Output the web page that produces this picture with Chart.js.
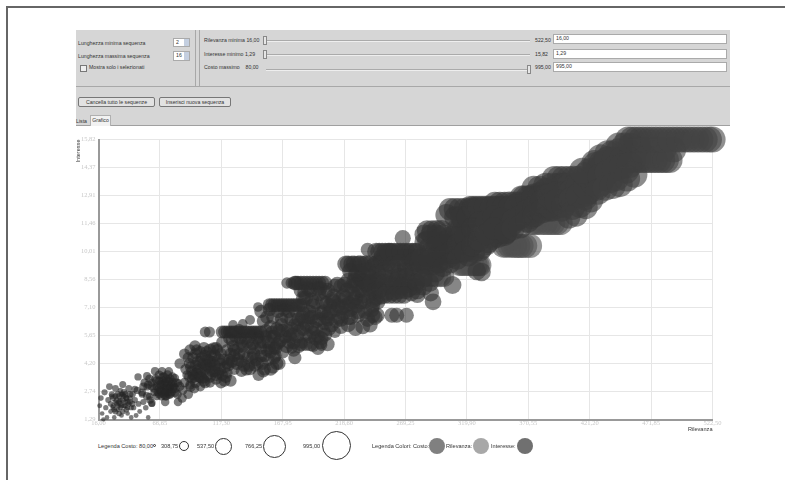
<!DOCTYPE html>
<html lang="it">
<head>
    <meta charset="UTF-8">
    <title>Grafico sequenze</title>
    <script src="https://cdn.jsdelivr.net/npm/chart.js"></script>
    <style>
        html, body { margin: 0; padding: 0; background: #fff; }
        body { width: 790px; height: 480px; position: relative; overflow: hidden; font-family: "Liberation Sans", sans-serif; font-size: 5.2px; color: #333; }
        .abs { position: absolute; white-space: nowrap; }
        .t { position: absolute; white-space: nowrap; line-height: 8px; height: 8px; }
        .leg { font-size: 5.6px; }
        .box { position: absolute; background: #fff; border: 1px solid #aaa; box-sizing: border-box; line-height: 7px; padding-left: 2px; white-space: nowrap; }
        .btn { position: absolute; background: #e2e2e2; border: 1px solid #777; border-radius: 2px; box-sizing: border-box; text-align: center; line-height: 8px; white-space: nowrap; }
        .track { position: absolute; height: 2px; background: #eee; border-top: 1px solid #aaa; box-sizing: border-box; }
        .thumb { position: absolute; width: 4px; height: 9px; background: #e6e6e6; border: 1px solid #888; box-sizing: border-box; }
        .ring { position: absolute; border: 1px solid #333; border-radius: 50%; box-sizing: border-box; background: #fff; }
        .dot { position: absolute; border-radius: 50%; width: 16px; height: 16px; }
        #chartBox { position: absolute; left: 60px; top: 126px; width: 680px; height: 314px; }
    </style>
</head>
<body>
    <!-- cornice -->
    <div class="abs" style="left:6px;top:6px;width:779px;height:2px;background:#666"></div>
    <div class="abs" style="left:6px;top:6px;width:2px;height:474px;background:#666"></div>

    <!-- pannello grigio -->
    <div class="abs" style="left:76px;top:30px;width:654px;height:95px;background:#d6d6d6"></div>
    <div class="abs" style="left:76px;top:86px;width:654px;height:1px;background:#a8a8a8"></div>
    <div class="abs" style="left:195px;top:30px;width:1px;height:56px;background:#a8a8a8"></div>
    <div class="abs" style="left:199px;top:30px;width:1px;height:56px;background:#a8a8a8"></div>
    <div class="abs" style="left:76px;top:125px;width:654px;height:1px;background:#a0a0a0"></div>

    <div class="t" style="left:78px;top:39px">Lunghezza minima sequenza</div>
    <div class="t" style="left:78px;top:52px">Lunghezza massima sequenza</div>
    <div class="box" style="left:173px;top:38px;width:17px;height:9px">2</div>
    <div class="box" style="left:173px;top:51px;width:17px;height:10px">16</div>
    <div class="abs" style="left:184px;top:39px;width:5px;height:7px;background:#c4cfe0"></div>
    <div class="abs" style="left:184px;top:52px;width:5px;height:8px;background:#c4cfe0"></div>
    <div class="abs" style="left:80px;top:65px;width:5px;height:5px;border:1px solid #777;background:#eee"></div>
    <div class="t" style="left:89px;top:63px">Mostra solo i selezionati</div>

    <div class="t" style="left:204px;top:36px">Rilevanza minima 16,00</div>
    <div class="t" style="left:204px;top:50px">Interesse minimo 1,29</div>
    <div class="t" style="left:204px;top:63px">Costo massimo &nbsp; &nbsp;80,00</div>
    <div class="track" style="left:266px;top:40px;width:264px"></div>
    <div class="track" style="left:266px;top:54px;width:264px"></div>
    <div class="track" style="left:266px;top:69px;width:264px"></div>
    <div class="thumb" style="left:263px;top:36px"></div>
    <div class="thumb" style="left:263px;top:50px"></div>
    <div class="thumb" style="left:527px;top:65px"></div>
    <div class="t" style="left:535px;top:36px">522,50</div>
    <div class="t" style="left:535px;top:50px">15,82</div>
    <div class="t" style="left:535px;top:63px">995,00</div>
    <div class="box" style="left:553px;top:34px;width:174px;height:10px">16,00</div>
    <div class="box" style="left:553px;top:49px;width:174px;height:10px">1,29</div>
    <div class="box" style="left:553px;top:62px;width:174px;height:10px">995,00</div>

    <div class="btn" style="left:78px;top:97px;width:77px;height:10px">Cancella tutto le sequenze</div>
    <div class="btn" style="left:159px;top:97px;width:72px;height:10px">Inserisci nuova sequenza</div>

    <div class="abs" style="left:90px;top:115px;width:21px;height:11px;background:#f2f2f2;border:1px solid #b0b0b0;border-bottom:none;box-sizing:border-box;text-align:center;line-height:9px">Grafico</div>
    <div class="t" style="left:76px;top:117px">Lista</div>

    <div id="chartBox"><canvas id="grafico"></canvas></div>

    <!-- legenda -->
    <div class="t leg" style="left:98px;top:442px">Legenda Costo: 80,00</div>
    <div class="ring" style="left:153px;top:444px;width:3px;height:3px"></div>
    <div class="t leg" style="left:161px;top:442px">308,75</div>
    <div class="ring" style="left:179px;top:441px;width:10px;height:10px"></div>
    <div class="t leg" style="left:197px;top:442px">537,50</div>
    <div class="ring" style="left:215px;top:438px;width:17px;height:17px"></div>
    <div class="t leg" style="left:245px;top:442px">766,25</div>
    <div class="ring" style="left:263px;top:435px;width:23px;height:23px"></div>
    <div class="t leg" style="left:303px;top:442px">995,00</div>
    <div class="ring" style="left:322px;top:431px;width:29px;height:29px"></div>
    <div class="t leg" style="left:372px;top:442px">Legenda Colori: Costo:</div>
    <div class="dot" style="left:429px;top:438px;background:#808080"></div>
    <div class="t leg" style="left:446px;top:442px">Rilevanza:</div>
    <div class="dot" style="left:473px;top:438px;background:#a8a8a8"></div>
    <div class="t leg" style="left:491px;top:442px">Interesse:</div>
    <div class="dot" style="left:517px;top:438px;background:#707070"></div>

    <script>
        const xTicks = [16.00, 66.65, 117.30, 167.95, 218.60, 269.25, 319.90, 370.55, 421.20, 471.85, 522.50];
        const yTicks = [1.29, 2.74, 4.20, 5.65, 7.10, 8.56, 10.01, 11.46, 12.91, 14.37, 15.82];

        // massa scura: disegnata per prima
        const relevanzaMassa = [
            26,28,30,32,34,36,38,40,42,27,
            29,31,33,35,37,39,41,43,30,33,
            36,39,34,37,
            62,64,66,68,70,72,74,76,78,80,
            63,65,67,69,71,73,75,77,79,81,
            66,69,72,75,68,71,74,70,73,76,
            85,100,103,108,
            90,92,94,96,98,100,102,104,106,108,
            110,112,114,116,118,120,122,124,91,93,
            95,97,99,101,103,105,107,109,111,113,
            115,117,119,121,123,125,98,103,108,113,
            124,127,130,133,136,139,142,145,148,151,
            154,157,160,163,126,129,132,135,138,141,
            144,147,150,153,156,159,162,165,128,131,
            134,137,140,143,146,149,152,155,158,161,
            120,124,128,132,136,140,144,148,
            155,158,161,164,167,170,173,176,179,182,
            185,188,191,194,197,200,203,206,157,160,
            163,166,169,172,175,178,181,184,187,190,
            193,196,199,202,205,159,162,165,168,171,
            174,177,180,183,186,189,192,195,198,201,
            159,163,167,171,175,179,183,
            183,187,191,195,199,203,207,211,215,219,
            223,227,231,235,239,243,185,189,193,197,
            201,205,209,213,217,221,225,229,233,237,
            241,245,206,210,214,218,222,226,230,234,
            238,242,246,204,208,212,216,220,224,228,
            180.5,185.5,190.5,195.5,200.5,
            222,227,232,237,242,247,252,257,262,267,
            272,277,282,287,224,229,234,239,244,249,
            254,259,264,269,274,279,284,232,237,242,
            247,252,257,262,267,272,277,244,249,254,
            259,264,269,274,279,284,289,294,250,256,
            247.5,252.5,257.5,262.5,267.5,272.5,277,
            285,290,295,300,305,310,315,320,325,330,
            335,340,345,350,288,293,298,303,308,313,
            318,323,328,333,338,343,348,353,287,292,
            297,302,307,312,317,322,327,332,337,342,
            347,352,296,301,306,311,316,321,326,331,
            336,341,346,351,356,361,366,371,318,322,
            322.5,327.5,332.5,337.5,342.5,347.5,352.5,357.5,367,372,
            377,
            355,360,365,370,375,380,385,390,395,400,
            405,410,415,420,425,430,357,362,367,372,
            377,382,387,392,397,402,407,412,417,422,
            427,432,368,373,378,383,388,393,398,403,
            408,413,418,423,428,433,438,443,396,401,
            406,411,416,421,426,431,436,441,446,451,
            439,445,451,457,463,469,475,481,456.5,463.5,
            470.5,477.5,484.5,491.5,498.5,505.5,512.5,519.5,458,466,
            474,482,490,445,450,455,
            306,310,314,318,322,326,303,287,291,295,
            299,343,347,351,355,359,363,392,396,400,
            404,408,412,375,380,52,54,56,58,60,
            53,57,332,328
        ];
        const interesseMassa = [
            2.1,1.9,2.5,2.0,2.3,1.7,2.2,1.9,2.4,2.5,
            1.8,2.1,2.2,2.6,2.0,1.8,2.1,1.9,1.7,1.6,
            2.6,2.4,2.8,2.5,
            2.9,3.3,2.6,3.1,2.9,2.9,3.3,2.7,3.0,3.2,
            3.4,2.7,3.1,3.5,2.5,2.7,3.0,3.5,2.9,2.6,
            3.6,3.3,2.5,3.4,2.7,3.2,2.6,3.5,3.6,3.1,
            2.4,3.0,3.4,3.2,
            4.5,4.0,3.6,4.7,4.3,3.7,4.2,3.9,4.4,3.5,
            4.3,3.8,4.9,4.2,3.6,4.0,3.7,4.4,4.2,3.8,
            3.5,4.9,3.5,4.5,5.0,4.8,4.0,4.6,5.0,3.6,
            3.7,4.7,4.4,3.5,4.1,4.7,3.9,3.3,4.1,5.0,
            5.5,5.1,4.2,5.5,4.1,4.5,5.6,4.1,5.6,4.2,
            5.6,5.0,4.0,4.2,4.3,5.6,4.7,5.1,3.9,5.0,
            4.7,5.5,5.0,4.6,4.4,5.6,4.6,4.2,4.9,4.4,
            5.3,5.5,4.1,5.2,4.4,5.3,3.8,4.9,3.9,5.0,
            5.83,5.83,5.83,5.83,5.83,5.83,5.83,5.83,
            6.6,6.1,5.6,6.9,6.2,5.6,6.9,5.7,6.9,5.9,
            6.8,6.2,5.2,6.8,5.6,6.8,5.7,6.0,7.0,6.6,
            6.0,5.4,7.0,5.9,6.5,6.2,5.1,6.6,5.7,6.9,
            5.8,6.4,5.3,6.9,6.5,5.8,5.0,5.3,5.9,5.1,
            5.6,5.3,6.2,5.2,6.4,6.6,6.1,5.5,6.5,5.9,
            7.23,7.23,7.23,7.23,7.23,7.23,7.23,
            8.0,7.6,8.0,7.4,8.1,7.9,7.2,8.2,7.5,8.3,
            7.3,8.5,8.0,7.4,8.1,7.5,7.6,8.1,7.2,8.1,
            7.4,8.0,7.5,8.3,7.1,8.0,8.2,7.2,8.0,8.3,
            7.0,7.6,6.8,7.4,6.6,7.7,6.6,7.4,6.9,7.7,
            6.5,6.7,7.4,6.6,6.2,7.0,6.5,7.2,6.6,7.6,
            8.37,8.37,8.37,8.37,8.37,
            9.36,9.36,9.36,9.36,9.2,8.6,9.7,9.7,9.7,9.7,
            9.7,9.7,9.7,9.4,9.0,8.8,8.8,8.7,8.5,9.5,
            9.4,9.0,8.9,9.0,9.2,9.4,9.3,8.6,8.4,8.3,
            8.5,8.7,8.3,8.5,8.4,8.4,8.2,7.9,7.7,8.2,
            7.9,8.0,8.0,7.9,8.0,8.2,8.4,8.9,9.7,10.0,
            10.0,10.0,10.0,10.0,10.0,10.0,10.0,
            10.5,10.0,10.5,10.2,10.4,10.9,11.3,11.3,11.8,11.9,
            11.9,11.9,11.9,11.9,9.3,9.5,10.1,10.6,9.9,10.0,
            10.4,10.6,11.0,11.2,11.4,11.4,11.4,11.4,10.6,9.3,
            9.4,9.6,9.9,10.8,11.3,10.1,10.5,10.2,10.5,10.8,
            11.0,11.0,9.9,9.9,9.7,9.9,10.4,9.8,10.0,10.1,
            10.4,10.7,10.8,10.9,11.4,11.7,11.9,12.2,11.8,11.8,
            12.3,12.3,12.3,12.3,12.3,12.3,12.3,12.3,12.8,12.8,
            12.8,
            11.9,12.4,11.9,12.5,12.9,13.0,13.2,12.2,13.2,13.2,
            13.3,13.2,13.5,13.1,13.9,13.5,11.4,11.7,12.5,12.0,
            12.6,12.4,13.0,13.0,12.4,12.9,12.3,13.0,12.8,12.7,
            13.3,13.8,12.4,11.8,12.5,12.9,12.2,12.8,12.2,12.7,
            13.1,12.4,13.0,13.6,14.3,14.6,13.7,13.8,13.45,13.45,
            13.45,13.45,13.7,14.2,14.5,14.6,14.8,14.6,14.4,14.2,
            14.76,14.76,14.76,14.76,14.76,14.76,14.76,14.76,15.82,15.82,
            15.82,15.82,15.82,15.82,15.82,15.82,15.82,15.82,15.3,15.3,
            15.3,15.3,15.3,15.5,15.5,15.5,
            12.2,12.2,12.2,12.2,12.2,12.2,11.9,11.1,11.1,11.1,
            11.1,12.5,12.5,12.5,12.5,12.5,12.5,13.8,13.8,13.8,
            13.8,13.8,13.8,13.3,13.3,2.7,3.2,2.5,3.4,3.0,
            3.0,3.1,8.95,9.0
        ];
        const costoMassa = [
            200,190,210,200,190,210,200,190,210,200,
            200,190,210,200,190,210,200,190,210,200,
            200,210,190,200,
            310,320,300,310,320,310,300,320,310,320,
            310,300,320,310,300,320,310,320,330,320,
            320,310,300,330,320,310,320,320,330,310,
            330,340,340,350,
            390,400,390,400,410,400,390,410,400,410,
            400,420,410,420,410,420,400,420,390,400,
            400,390,410,400,420,410,400,420,410,420,
            410,420,430,420,430,420,400,420,410,420,
            440,430,450,440,450,440,450,440,450,460,
            450,460,440,460,440,450,440,450,440,450,
            460,450,460,440,450,460,440,450,440,450,
            440,460,450,440,450,460,440,450,460,450,
            450,450,450,450,450,450,450,450,
            470,480,490,470,480,490,480,490,480,490,
            490,500,490,500,490,500,490,500,470,480,
            470,480,470,480,490,480,490,500,490,480,
            490,500,490,500,510,470,480,470,480,490,
            480,490,480,490,500,490,500,490,500,510,
            480,480,480,480,480,480,480,
            510,520,510,520,510,520,530,520,530,540,
            530,540,550,540,550,560,510,520,510,520,
            530,520,530,540,530,540,550,540,550,560,
            560,550,520,530,520,530,540,530,540,550,
            540,550,560,510,520,510,530,520,540,550,
            500,500,500,500,500,
            590,590,600,600,600,600,620,620,620,620,
            620,620,630,640,590,600,600,610,600,620,
            620,610,620,620,630,630,640,590,600,600,
            610,610,620,620,620,620,630,600,600,610,
            610,620,620,630,630,640,650,660,620,620,
            620,620,620,620,620,620,620,
            700,700,710,710,720,730,740,750,760,770,
            770,780,780,790,680,690,700,710,720,730,
            740,750,760,770,780,790,800,800,690,700,
            700,710,720,730,740,750,760,770,780,790,
            790,800,710,710,720,730,740,750,760,770,
            780,790,790,800,810,820,830,840,760,760,
            780,780,780,780,780,790,790,790,840,840,
            840,
            810,820,820,830,840,840,850,850,860,860,
            860,870,870,880,880,890,800,810,820,830,
            830,840,850,850,860,860,870,870,880,880,
            880,890,820,830,840,840,850,850,860,860,
            870,870,880,880,890,890,890,890,860,860,
            870,870,880,880,890,890,900,900,900,900,
            900,900,900,900,900,900,900,900,900,900,
            900,900,900,900,900,900,900,900,900,900,
            900,900,900,900,900,900,
            770,770,780,780,780,790,760,710,710,720,
            720,800,810,810,820,820,830,860,860,860,
            860,870,870,840,850,280,290,290,300,300,
            290,300,640,640
        ];

        // punti letti uno per uno
        const relevanzaBase = [
            17,18,19,20,21,22,23,24,25,26,
            27,28,29,30,31,32,33,34,35,36,
            37,38,39,40,41,42,43,44,45,46,
            47,48,49,50,52,53,55,57,58,60,
            30,32,34,36,38,40,28,35,44,42,
            48.6,56,56,46,58.5,60,71,81.6,81.6,89,
            79,85.7,91.5,99.7,62.6,68.4,74,60,62,64,
            64,66,67,68,70,71,72,74,75,77,
            77,79,66,70,73,83,87,95,90,93,
            87,83,95.6,91.5,88,91,94,96,97,100,
            100,101,101,104,105,106,108,108,110,112,
            112,113,115,116,117,120,125,104,96,92,
            104,107.5,118,122,126,130,134,138,142,146,
            150,118,122,126,128,131,134,136,139,141,
            143,145,147,150,152,153,148,128,122,134,
            127,135,141,132,147.6,175.6,184,193,200,211,
            150,152,154,156,158,161,163,165,167,168,
            157,161,165,169,173,177,181,185,171,175,
            173,177,180,181,185,187,190,192,195,197,
            200,203,205,178,171.5,175,179,178,183,188,
            193,198,203,186,192,198,204,210,216,222,
            228,234,240,208,214,220,226,232,238,244,
            212,218,224,230,236,242,216,222,228,234,
            240,244,220,225,230,235,240,245,250,245,
            250,255,260,265,270,275,279,230,238,246,
            252,258,264,270,276,252,258,264,270,276,
            282,248,254,260,266,272,278,284,252,256,
            260,264,268,238,267,246,258,262,270,279,
            292,290,308,285,290,295,300,288,294,300,
            306,312,310,315,320,325,330,335,340,345,
            350,355,360,282,288,294,300,306,312,318,
            324,330,336,342,348,300,306,312,318,324,
            330,336,342,365,370,375,380,385,390,395,
            400,405,410,358,364,370,376,382,388,394,
            400,406,412,352,358,364,370,376,382,388,
            394,400,406,412,418,424,418,424,430,435,
            415,425,430,436,440,445,436,442,448,454,
            460,466,472,478,484,487,430,436,442,448,
            454,428,434,440,446,452,458,418,410,404,
            453,460,467,474,481,488,495,502,509,516,
            522.5
        ];
        const interesseBase = [
            2.0,2.4,1.6,1.3,2.7,1.9,1.4,2.3,3.0,1.7,
            2.6,2.0,1.4,2.9,2.3,1.8,2.5,2.1,1.5,3.1,
            2.7,2.0,2.4,1.6,2.9,2.2,1.4,2.6,1.9,2.3,
            1.5,2.8,2.1,1.7,2.6,2.2,1.9,1.4,2.5,2.1,
            2.2,2.6,1.9,2.3,2.6,2.2,2.4,2.0,2.1,2.6,
            3.5,3.55,2.98,2.87,2.3,2.15,2.2,2.2,3.18,3.6,
            3.44,2.82,3.08,3.44,3.8,3.8,3.78,3.2,2.7,2.5,
            3.0,3.3,2.8,2.5,3.1,2.7,3.4,2.9,2.6,3.2,
            2.9,2.7,2.9,2.6,3.1,3.0,3.2,2.9,2.6,3.4,
            4.69,4.2,5.1,4.9,3.9,3.5,4.5,4.1,3.7,4.8,
            4.3,3.9,3.45,4.6,4.1,3.6,4.9,4.3,3.8,4.6,
            4.1,3.4,4.4,3.9,3.2,3.3,3.3,3.2,3.2,3.0,
            5.83,5.83,5.83,5.83,5.83,5.83,5.83,5.83,5.83,5.83,
            5.83,5.3,4.9,5.4,4.6,5.0,4.3,4.7,5.3,3.9,
            4.5,5.0,4.2,4.6,5.3,3.9,3.6,3.9,4.2,3.8,
            6.2,6.25,6.45,6.0,7.13,5.0,5.26,5.1,5.15,5.83,
            6.9,6.4,5.9,5.3,4.8,4.5,5.2,5.9,6.5,4.8,
            7.23,7.23,7.23,7.23,7.23,7.23,7.23,7.23,6.6,6.0,
            5.3,4.9,5.6,6.5,6.0,5.2,5.6,6.6,6.0,5.0,
            5.5,6.3,5.2,4.5,8.37,8.37,8.37,8.37,8.37,8.37,
            8.37,8.37,8.37,7.9,7.5,7.8,7.3,7.7,8.2,8.5,
            8.3,8.5,8.4,6.9,7.2,7.6,7.8,7.4,7.7,8.0,
            6.4,6.8,7.0,6.7,6.9,7.2,6.1,6.2,6.0,6.1,
            6.2,6.6,9.36,9.36,9.36,9.36,9.36,9.36,9.36,10.0,
            10.0,10.0,10.0,10.0,10.0,10.0,10.0,8.9,9.0,8.9,
            9.0,9.3,9.4,9.3,9.5,8.4,8.6,8.7,8.7,8.9,
            9.1,8.0,7.9,8.2,8.2,8.1,8.4,8.6,7.75,7.75,
            7.75,7.75,7.75,10.1,10.7,6.7,6.7,6.7,6.7,7.75,
            7.4,7.85,8.27,10.9,10.9,10.9,10.9,10.2,10.3,10.4,
            10.8,11.2,11.8,11.8,11.8,12.3,12.3,12.3,12.3,12.3,
            12.3,12.3,12.3,9.7,9.6,9.7,9.8,10.0,10.4,10.8,
            11.2,11.5,11.6,11.8,11.7,9.2,9.4,9.6,10.0,10.3,
            10.6,10.9,11.2,12.8,12.8,12.8,12.8,13.45,13.45,13.45,
            13.45,13.45,13.45,11.6,11.8,12.1,12.3,12.6,12.9,13.0,
            13.0,13.1,13.4,11.0,11.2,11.3,11.6,11.9,12.1,12.4,
            12.6,12.4,12.7,12.9,13.4,13.6,14.0,14.0,14.3,14.4,
            14.2,14.6,14.9,15.1,15.1,15.2,14.76,14.76,14.76,14.76,
            14.76,14.76,14.76,14.76,14.76,14.76,13.9,14.1,14.3,14.4,
            14.5,13.1,13.3,13.4,13.5,13.8,14.0,12.3,11.9,11.8,
            15.82,15.82,15.82,15.82,15.82,15.82,15.82,15.82,15.82,15.82,
            15.82
        ];
        const costoBase = [
            180,200,170,160,220,190,170,210,240,180,
            220,190,170,240,210,180,220,200,170,250,
            230,190,220,170,250,210,170,240,190,220,
            180,260,210,180,250,220,200,170,250,230,
            200,230,190,220,240,210,220,200,220,240,
            260,280,260,240,270,270,300,300,310,330,
            300,320,340,340,290,300,310,280,280,280,
            290,290,300,300,310,310,310,320,320,330,
            330,330,300,310,320,330,340,350,340,350,
            390,370,400,390,380,380,400,400,400,410,
            410,410,400,420,420,410,430,430,420,430,
            430,420,440,430,400,420,420,390,380,370,
            380,390,450,450,450,450,450,450,450,450,
            450,420,420,430,430,430,430,440,440,430,
            440,450,440,450,460,440,420,400,400,410,
            340,340,350,340,340,400,400,410,410,420,
            460,460,460,460,450,450,460,470,470,460,
            480,480,480,480,480,480,480,480,480,480,
            470,470,480,490,490,480,490,500,500,480,
            490,510,490,460,400,400,500,500,500,500,
            500,500,500,510,510,510,510,520,530,540,
            540,550,550,510,520,530,540,540,550,560,
            500,510,520,520,530,540,500,510,510,520,
            530,540,590,590,590,590,600,600,600,620,
            620,620,620,620,620,620,620,590,600,600,
            610,620,620,630,630,600,610,610,620,630,
            640,590,600,610,620,620,630,640,600,600,
            600,600,600,480,560,520,520,520,520,560,
            580,580,620,700,700,700,700,680,690,700,
            710,730,740,740,740,780,780,780,780,780,
            780,790,790,670,680,690,700,710,720,730,
            740,750,760,770,780,700,710,720,730,740,
            750,760,770,840,840,850,850,860,860,860,
            870,870,870,800,810,820,830,840,850,860,
            860,870,880,790,800,810,820,830,840,850,
            860,860,870,880,880,890,880,890,890,890,
            890,890,890,900,900,900,900,900,900,900,
            900,900,900,900,900,900,890,890,890,900,
            900,880,880,890,890,900,900,820,800,800,
            900,900,900,900,900,900,900,900,900,900,
            900
        ];

        // blocchi piu' chiari sul bordo inferiore: restano sotto la massa scura
        const relevanzaChiari = [
            281,283.5,286,288.5,291,293.5,296,298.5,301,
            314,316,318,320.5,323,325.5,328,329.5,331,
            350,352.5,355,357.5,360,362.5,365,368,372,
            373,375.5,378,381.5,385,388,391,394,397
        ];
        const interesseChiari = [
            8.7,8.7,8.7,8.7,8.7,8.7,8.7,8.7,8.7,
            9.3,9.3,9.3,9.3,9.3,9.3,9.3,9.3,9.3,
            10.3,10.3,10.3,10.3,10.3,10.3,10.3,10.3,10.3,
            11.5,11.5,11.5,11.5,11.5,11.5,11.5,11.5,11.5
        ];
        const costoChiari = [
            700,700,700,710,710,710,720,720,720,
            750,750,750,750,760,760,760,760,760,
            820,820,820,820,830,830,830,830,830,
            840,840,840,850,850,850,850,850,850
        ];

        const relevanza = [...relevanzaMassa, ...relevanzaBase];
        const interesse = [...interesseMassa, ...interesseBase];
        const costo = [...costoMassa, ...costoBase];

        const virgola = v => v.toFixed(2).replace('.', ',');

        // raggio in pixel dal costo, come nella legenda
        function raggio(c) {
            return 1 + (c - 80) * 0.01475;
        }

        // il grigio schiarisce con la rilevanza
        function colore(ctx) {
            const g = Math.round(34 + relevanza[ctx.dataIndex] * 0.066);
            return `rgba(${g},${g},${g},0.6)`;
        }

        const punti = relevanza.map((x, i) => ({ x: x, y: interesse[i], r: raggio(costo[i]) }));
        const puntiChiari = relevanzaChiari.map((x, i) => ({ x: x, y: interesseChiari[i], r: raggio(costoChiari[i]) }));

        new Chart(document.getElementById("grafico"), {
            type: "bubble",
            data: {
                datasets: [
                    { data: punti, order: 0, backgroundColor: colore, borderWidth: 0, clip: false },
                    { data: puntiChiari, order: 1, backgroundColor: "rgba(80,80,80,0.6)", borderWidth: 0, clip: false }
                ]
            },
            options: {
                responsive: true,
                maintainAspectRatio: false,
                animation: false,
                layout: { padding: { left: 0, top: 13.5, right: 27.5, bottom: 0.5 } },
                plugins: { legend: { display: false } },
                scales: {
                    x: {
                        type: "linear",
                        min: 16,
                        max: 522.5,
                        afterBuildTicks: s => { s.ticks = xTicks.map(v => ({ value: v })); },
                        afterFit: s => { s.height = 20; },
                        grid: { color: "#e6e6e6", lineWidth: 1, drawTicks: false },
                        border: { color: "#999", width: 2 },
                        ticks: {
                            callback: virgola, color: "#c8c8c8", autoSkip: false, maxRotation: 0, padding: 0,
                            font: { family: "Liberation Serif", size: 6.5 }
                        },
                        title: {
                            display: true, text: "Rilevanza", align: "end", color: "#333", padding: { top: 0, bottom: 7 },
                            font: { family: "Liberation Sans", size: 5.6 }
                        }
                    },
                    y: {
                        type: "linear",
                        min: 1.29,
                        max: 15.82,
                        afterBuildTicks: s => { s.ticks = yTicks.map(v => ({ value: v })); },
                        afterFit: s => { s.width = 38.5; },
                        grid: { color: "#e6e6e6", lineWidth: 1, drawTicks: false },
                        border: { color: "#999", width: 2 },
                        ticks: {
                            callback: virgola, color: "#c8c8c8", autoSkip: false, padding: 3,
                            font: { family: "Liberation Serif", size: 6.5 }
                        },
                        title: {
                            display: true, text: "Interesse", align: "end", color: "#333", padding: { top: 15, bottom: 0 },
                            font: { family: "Liberation Sans", size: 5.6 }
                        }
                    }
                }
            }
        });
    </script>
</body>
</html>
